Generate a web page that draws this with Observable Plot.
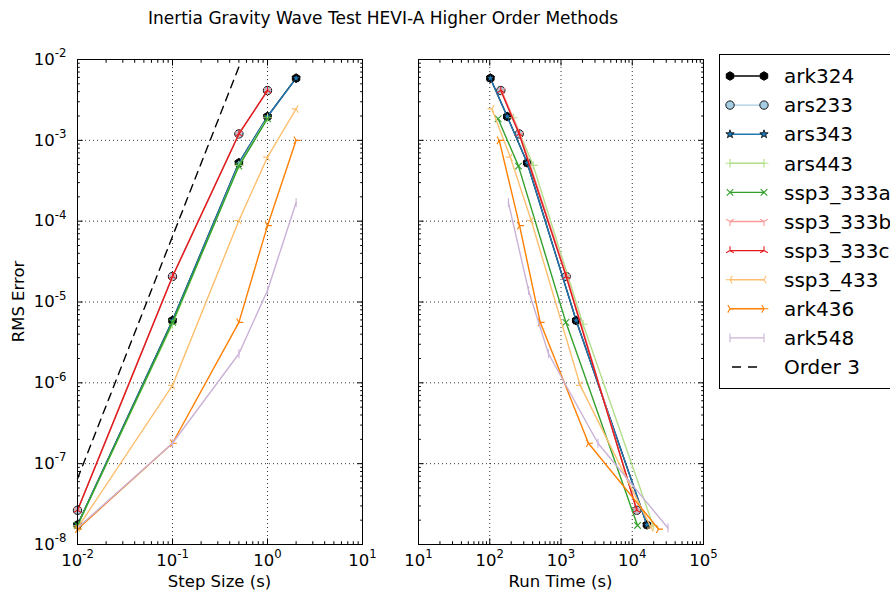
<!DOCTYPE html>
<html><head><meta charset="utf-8">
<script src="https://cdn.jsdelivr.net/npm/d3@7"></script>
<script src="https://cdn.jsdelivr.net/npm/@observablehq/plot@0.6"></script>
<style>
body{margin:0;background:#fff;}
#root{position:relative;width:890px;height:593px;overflow:hidden;font-family:"DejaVu Sans",sans-serif;}
#root > svg, #root > div {position:absolute;}
</style></head><body><div id="root"></div>
<script>
// ---------------- data ----------------
const stepSizes = [2, 1, 0.5, 0.1, 0.01];
const methods = ["ark324","ars233","ars343","ars443","ssp3_333a","ssp3_333b","ssp3_333c","ssp3_433","ark436","ark548"];
const colors  = ["#000000","#a6cee3","#1f78b4","#b2df8a","#33a02c","#fb9a99","#e31a1c","#fdbf6f","#ff7f00","#cab2d6"];
const markers = ["hexagon","circle","star","plus","x","tri_down","tri_up","tri_left","tri_right","vline"];
// RMS error for each step size (null = not run)
const err_ark324    = [5.87e-3, 1.97e-3, 5.27e-4, 5.9e-6, 1.75e-8];
const err_ars233    = [null, 4.13e-3, 1.2e-3, 2.07e-5, 2.65e-8];
const err_ars343    = [5.87e-3, 1.97e-3, 5.27e-4, 5.9e-6, 1.75e-8];
const err_ars443    = [null, 1.9e-3, 4.9e-4, 5.3e-6, 1.7e-8];
const err_ssp3_333a = [null, 1.85e-3, 4.8e-4, 5.6e-6, 1.72e-8];
const err_ssp3_333b = [null, 4.13e-3, 1.2e-3, 2.07e-5, 2.65e-8];
const err_ssp3_333c = [null, 4.13e-3, 1.2e-3, 2.07e-5, 2.65e-8];
const err_ssp3_433  = [2.45e-3, 6.2e-4, 1.02e-4, 9.3e-7, 1.6e-8];
const err_ark436    = [1.0e-3, 8.8e-5, 5.6e-6, 1.79e-7, 1.55e-8];
const err_ark548    = [1.7e-4, 1.39e-5, 2.29e-6, 1.79e-7, 1.6e-8];
// run time (s) for each step size
const time_ark324    = [102, 176, 335, 1633, 16070];
const time_ars233    = [null, 143, 259, 1183, 11600];
const time_ars343    = [102, 176, 335, 1633, 16070];
const time_ars443    = [null, 214, 407, 2040, 19700];
const time_ssp3_333a = [null, 131, 253, 1172, 11860];
const time_ssp3_333b = [null, 147, 266, 1210, 11600];
const time_ssp3_333c = [null, 143, 259, 1183, 11600];
const time_ssp3_433  = [107, 194, 382, 1860, 18500];
const time_ark436    = [136, 262, 511, 2430, 23400];
const time_ark548    = [183, 350, 668, 3300, 31700];
// reference slope
const order3_dt  = [0.01, 0.5];
const order3_err = [6.5e-8, 8.1e-3];
// ticks
const yMajor = [1e-8, 1e-7, 1e-6, 1e-5, 1e-4, 1e-3, 1e-2];
const xMajorStep = [1e-2, 1e-1, 1, 10];
const xMajorTime = [1e1, 1e2, 1e3, 1e4, 1e5];
const titleText = "Inertia Gravity Wave Test HEVI-A Higher Order Methods";
const xLabelStep = "Step Size (s)";
const xLabelTime = "Run Time (s)";
const yLabel = "RMS Error";

const errTable = {ark324: err_ark324, ars233: err_ars233, ars343: err_ars343, ars443: err_ars443, ssp3_333a: err_ssp3_333a, ssp3_333b: err_ssp3_333b, ssp3_333c: err_ssp3_333c, ssp3_433: err_ssp3_433, ark436: err_ark436, ark548: err_ark548};
const timeTable = {ark324: time_ark324, ars233: time_ars233, ars343: time_ars343, ars443: time_ars443, ssp3_333a: time_ssp3_333a, ssp3_333b: time_ssp3_333b, ssp3_333c: time_ssp3_333c, ssp3_433: time_ssp3_433, ark436: time_ark436, ark548: time_ark548};
const rows = [];
methods.forEach(m => stepSizes.forEach((dt, j) => {
  const e = errTable[m][j];
  if (e != null) rows.push({method: m, dt, err: e, time: timeTable[m][j]});
}));
const order3Rows = order3_dt.map((dt, j) => ({dt, err: order3_err[j]}));

function minorTicks(major) {
  const out = [];
  for (let k = 0; k < major.length - 1; k++) for (let m = 2; m <= 9; m++) out.push(major[k] * m);
  return out;
}
const yMinor = minorTicks(yMajor);

// ---------------- marker shapes ----------------
const R = s => Math.sqrt(s / Math.PI);
const S3 = Math.sqrt(3) / 2;
const symbols = {
  hexagon: {draw(c, s) { const r = R(s); for (let k = 0; k < 6; k++) { const a = Math.PI / 3 * k - Math.PI / 2; const x = r * Math.cos(a), y = r * Math.sin(a); k ? c.lineTo(x, y) : c.moveTo(x, y); } c.closePath(); }},
  circle: {draw(c, s) { const r = R(s); c.moveTo(r, 0); c.arc(0, 0, r, 0, 2 * Math.PI); c.closePath(); }},
  star: {draw(c, s) { const r = R(s); for (let k = 0; k < 10; k++) { const rr = k % 2 ? r * 0.4 : r; const a = -Math.PI / 2 + k * Math.PI / 5; const x = rr * Math.cos(a), y = rr * Math.sin(a); k ? c.lineTo(x, y) : c.moveTo(x, y); } c.closePath(); }},
  plus: {draw(c, s) { const r = R(s); c.moveTo(-r, 0); c.lineTo(r, 0); c.moveTo(0, -r); c.lineTo(0, r); }},
  x: {draw(c, s) { const r = R(s) * 0.75; c.moveTo(-r, -r); c.lineTo(r, r); c.moveTo(-r, r); c.lineTo(r, -r); }},
  tri_down: {draw(c, s) { const r = R(s); c.moveTo(0, 0); c.lineTo(0, r); c.moveTo(0, 0); c.lineTo(-S3 * r, -r / 2); c.moveTo(0, 0); c.lineTo(S3 * r, -r / 2); }},
  tri_up: {draw(c, s) { const r = R(s); c.moveTo(0, 0); c.lineTo(0, -r); c.moveTo(0, 0); c.lineTo(-S3 * r, r / 2); c.moveTo(0, 0); c.lineTo(S3 * r, r / 2); }},
  tri_left: {draw(c, s) { const r = R(s); c.moveTo(0, 0); c.lineTo(-r, 0); c.moveTo(0, 0); c.lineTo(r / 2, -S3 * r); c.moveTo(0, 0); c.lineTo(r / 2, S3 * r); }},
  tri_right: {draw(c, s) { const r = R(s); c.moveTo(0, 0); c.lineTo(r, 0); c.moveTo(0, 0); c.lineTo(-r / 2, -S3 * r); c.moveTo(0, 0); c.lineTo(-r / 2, S3 * r); }},
  vline: {draw(c, s) { const r = R(s); c.moveTo(0, -r); c.lineTo(0, r); }}
};
function markerStyle(i) {
  const k = markers[i];
  if (k === "hexagon") return {symbol: symbols.hexagon, r: 4.3, fill: colors[i], stroke: "black", strokeWidth: 1};
  if (k === "circle") return {symbol: symbols.circle, r: 4.2, fill: colors[i], stroke: "black", strokeWidth: 0.9};
  if (k === "star") return {symbol: symbols.star, r: 4.4, fill: colors[i], stroke: "black", strokeWidth: 0.8};
  return {symbol: symbols[k], r: 4.4, fill: "none", stroke: colors[i], strokeWidth: 1.1};
}

const fmt = d => "10^" + Math.round(Math.log10(d));
const FONT = "DejaVu Sans";

function panel({xKey, xMajor, showY, width, marginLeft, marginRight, withOrder3}) {
  const xMinor = minorTicks(xMajor);
  const grid = {stroke: "black", strokeOpacity: 1, strokeWidth: 0.8, strokeDasharray: "1,3"};
  const marks = [
    Plot.gridX({ticks: xMajor, ...grid}),
    Plot.gridY({ticks: yMajor, ...grid})
  ];
  methods.forEach((m, i) => {
    const d = rows.filter(r => r.method === m);
    marks.push(Plot.line(d, {x: xKey, y: "err", stroke: colors[i], strokeWidth: 1.4}));
    marks.push(Plot.dot(d, {x: xKey, y: "err", ...markerStyle(i)}));
  });
  if (withOrder3) marks.push(Plot.line(order3Rows, {x: "dt", y: "err", stroke: "black", strokeWidth: 1.4, strokeDasharray: "8,6"}));
  for (const anchor of ["bottom", "top"]) {
    marks.push(Plot.axisX({anchor, ticks: xMajor, tickSize: -5.6, fill: "none", stroke: "black", label: null}));
    marks.push(Plot.axisX({anchor, ticks: xMinor, tickSize: -2.8, fill: "none", stroke: "black", label: null}));
  }
  for (const anchor of ["left", "right"]) {
    marks.push(Plot.axisY({anchor, ticks: yMajor, tickSize: -5.6, fill: "none", stroke: "black", label: null}));
    marks.push(Plot.axisY({anchor, ticks: yMinor, tickSize: -2.8, fill: "none", stroke: "black", label: null}));
  }
  marks.push(Plot.axisX({anchor: "bottom", ticks: xMajor, tickSize: 0, tickPadding: 9.3, tickFormat: fmt, fill: "black", label: null}));
  if (showY) marks.push(Plot.axisY({anchor: "left", ticks: yMajor, tickSize: 0, tickPadding: 11, tickFormat: fmt, fill: "black", label: null}));
  marks.push(Plot.frame({stroke: "black", strokeWidth: 1}));
  const xDomain = [xMajor[0], xMajor[xMajor.length - 1]];
  return Plot.plot({
    width, height: 593, marginTop: 59, marginBottom: 49, marginLeft, marginRight,
    x: {type: "log", domain: xDomain, label: null},
    y: {type: "log", domain: [1e-8, 1e-2], label: null},
    style: {fontFamily: FONT, fontSize: "16.5px", background: "transparent", overflow: "visible", color: "black"},
    marks
  });
}

function supify(svg) {
  const ns = "http://www.w3.org/2000/svg";
  svg.querySelectorAll("text").forEach(t => {
    const m = /^10\^(-?\d+)$/.exec(t.textContent);
    if (!m) return;
    t.textContent = "";
    t.appendChild(document.createTextNode("10"));
    const ts = document.createElementNS(ns, "tspan");
    ts.setAttribute("dy", "-7.5");
    ts.setAttribute("font-size", "11.7");
    ts.textContent = m[1];
    t.appendChild(ts);
  });
}

const root = document.getElementById("root");
const left = panel({xKey: "dt", xMajor: xMajorStep, showY: true, width: 380, marginLeft: 77, marginRight: 18, withOrder3: true});
left.style.left = "0px"; left.style.top = "0px";
supify(left);
root.appendChild(left);
const right = panel({xKey: "time", xMajor: xMajorTime, showY: false, width: 345, marginLeft: 38, marginRight: 22, withOrder3: false});
right.style.left = "380px"; right.style.top = "0px";
supify(right);
root.appendChild(right);

// ---------------- titles ----------------
const over = d3.create("svg").attr("width", 890).attr("height", 593)
  .style("left", "0px").style("top", "0px").style("pointer-events", "none")
  .attr("font-family", FONT).attr("font-size", 16.5).attr("fill", "black");
over.append("text").attr("x", 383).attr("y", 24).attr("font-size", 17).attr("text-anchor", "middle").text(titleText);
over.append("text").attr("x", 219.5).attr("y", 587).attr("text-anchor", "middle").text(xLabelStep);
over.append("text").attr("x", 560.5).attr("y", 587).attr("text-anchor", "middle").text(xLabelTime);
over.append("text").attr("transform", "translate(24,301.5) rotate(-90)").attr("text-anchor", "middle").text(yLabel);
root.appendChild(over.node());

// ---------------- legend ----------------
const legendItems = methods.map((m, i) => ({label: m, i}));
legendItems.push({label: "Order 3", i: -1});
const lg = d3.create("svg").attr("width", 171).attr("height", 336)
  .style("left", "719px").style("top", "54px").attr("font-family", FONT).attr("font-size", 20);
lg.append("rect").attr("x", 0.5).attr("y", 0.5).attr("width", 220).attr("height", 334).attr("fill", "white").attr("stroke", "black").attr("stroke-width", 1);
legendItems.forEach((it, k) => {
  const y = 22 + k * 29.1;
  const g = lg.append("g");
  if (it.i < 0) {
    g.append("line").attr("x1", 13).attr("x2", 45).attr("y1", y).attr("y2", y).attr("stroke", "black").attr("stroke-width", 1.4).attr("stroke-dasharray", "9,7");
  } else {
    const st = markerStyle(it.i);
    g.append("line").attr("x1", 11).attr("x2", 45).attr("y1", y).attr("y2", y).attr("stroke", colors[it.i]).attr("stroke-width", 1.4);
    const p = d3.symbol(st.symbol, st.r * st.r * Math.PI)();
    for (const x of [11, 45]) {
      g.append("path").attr("d", p).attr("transform", `translate(${x},${y})`)
        .attr("fill", st.fill).attr("stroke", st.stroke).attr("stroke-width", st.strokeWidth);
    }
  }
  g.append("text").attr("x", 65).attr("y", y).attr("dy", "0.36em").text(it.label);
});
root.appendChild(lg.node());
</script></body></html>
